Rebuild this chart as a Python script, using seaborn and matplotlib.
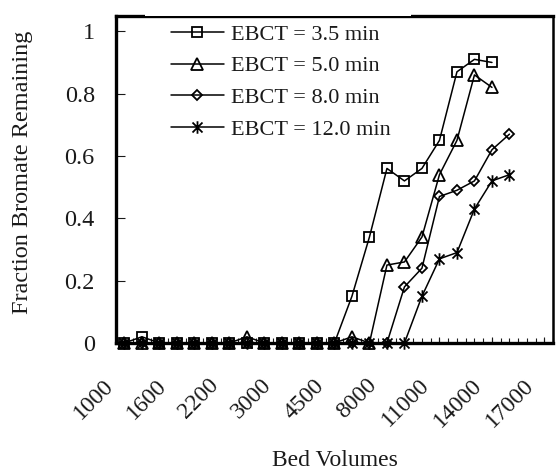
import numpy as np
import pandas as pd
import matplotlib
matplotlib.use("Agg")
import matplotlib.pyplot as plt
from matplotlib.path import Path
from matplotlib.patches import Rectangle
from matplotlib.ticker import MultipleLocator, FixedLocator
from matplotlib.transforms import ScaledTranslation
import seaborn as sns

# Breakthrough of bromate: fraction remaining per bed-volume sample point
ebct_labels = ["EBCT = 3.5 min", "EBCT = 5.0 min", "EBCT = 8.0 min", "EBCT = 12.0 min"]

frac_35 = [0, 0.02, 0, 0, 0, 0, 0, 0, 0, 0, 0, 0, 0, 0.15, 0.34, 0.56, 0.52,
           0.56, 0.65, 0.87, 0.91, 0.90]
frac_50 = [0, 0, 0, 0, 0, 0, 0, 0.02, 0, 0, 0, 0, 0, 0.02, 0, 0.25, 0.26,
           0.34, 0.54, 0.65, 0.86, 0.82]
frac_80 = [0, 0, 0, 0, 0, 0, 0, 0, 0, 0, 0, 0, 0, 0, 0, 0, 0.18,
           0.24, 0.47, 0.49, 0.52, 0.62, 0.67]
frac_120 = [0, 0, 0, 0, 0, 0, 0, 0, 0, 0, 0, 0, 0, 0, 0, 0, 0,
            0.15, 0.27, 0.29, 0.43, 0.52, 0.54]

bed_volume_ticks = ["1000", "1600", "2200", "3000", "4500", "8000",
                    "11000", "14000", "17000"]
n_categories = 25
label_step = 3

series = [frac_35, frac_50, frac_80, frac_120]

# asterisk: vertical bar plus an X
star_path = Path(
    [(0, -1), (0, 1), (-0.8, -0.8), (0.8, 0.8), (-0.8, 0.8), (0.8, -0.8)],
    [Path.MOVETO, Path.LINETO, Path.MOVETO, Path.LINETO, Path.MOVETO, Path.LINETO],
)
markers = ["s", "^", "D", star_path]
msizes = [7.5, 8.0, 5.5, 9.0]

sns.set_style("white")
plt.rcParams["font.family"] = ["Liberation Serif", "DejaVu Serif"]
plt.rcParams["text.color"] = "#1a1a1a"
plt.rcParams["axes.labelcolor"] = "#1a1a1a"
plt.rcParams["xtick.color"] = "#1a1a1a"
plt.rcParams["ytick.color"] = "#1a1a1a"

fig = plt.figure(figsize=(5.56, 4.70), dpi=100)
ax = fig.add_axes([0.208, 0.2702, 0.787, 0.6964])

for vals, lab, mk, ms in zip(series, ebct_labels, markers, msizes):
    df = pd.DataFrame({"pos": np.arange(len(vals)), "frac": vals})
    sns.lineplot(data=df, x="pos", y="frac", ax=ax, color="black", lw=1.1,
                 marker=mk, markersize=ms, markerfacecolor="none",
                 markeredgecolor="black", markeredgewidth=1.3,
                 label=lab, clip_on=False, zorder=3)

ax.set_xlim(-0.5, n_categories - 0.5)
ax.set_ylim(0, 1.05)

# y axis
ax.set_yticks([0, 0.2, 0.4, 0.6, 0.8, 1.0])
ax.set_yticklabels(["0", "0.2", "0.4", "0.6", "0.8", "1"])
ax.tick_params(axis="y", direction="in", length=6.5, width=0.8, pad=15,
               labelsize=17.5, left=True)

# x axis: labels on every third sample, small inward marks every half step
ax.xaxis.set_major_locator(FixedLocator(np.arange(0, n_categories, label_step)))
ax.set_xticklabels(bed_volume_ticks)
ax.xaxis.set_minor_locator(MultipleLocator(0.5))
ax.xaxis.remove_overlapping_locs = False
ax.tick_params(axis="x", which="major", direction="in", length=4, width=0.8,
               pad=23, labelsize=17, bottom=True)
ax.tick_params(axis="x", which="minor", direction="in", length=3.5, width=0.8,
               bottom=True)
offset = ScaledTranslation(-21 / 100, 0, fig.dpi_scale_trans)
for t in ax.get_xticklabels():
    t.set_rotation(45)
    t.set_ha("right")
    t.set_va("top")
    t.set_rotation_mode("anchor")
    t.set_transform(t.get_transform() + offset)

ax.set_xlabel("")
ax.set_ylabel("")
fig.text(0.602, 0.008, "Bed Volumes", ha="center", va="baseline", fontsize=17)
fig.text(0.040, 0.634, "Fraction Bromate Remaining", ha="center", va="center",
         rotation=90, fontsize=17.5)

for side in ["left", "bottom", "top"]:
    ax.spines[side].set_linewidth(2.4)
    ax.spines[side].set_color("black")
ax.spines["right"].set_linewidth(1.8)
ax.spines["right"].set_color("black")

# white band behind the legend, partly covering the top frame
ax.add_patch(Rectangle((0.068, 1.0), 0.606, 0.012, transform=ax.transAxes,
                       facecolor="white", edgecolor="none", clip_on=False,
                       zorder=10))

leg = ax.legend(loc="upper left", bbox_to_anchor=(0.1256, 0.974),
                frameon=False, borderpad=0, borderaxespad=0, fontsize=16,
                handlelength=2.4, handletextpad=0.3, labelspacing=0.5)

fig.savefig("out.png", dpi=100)
